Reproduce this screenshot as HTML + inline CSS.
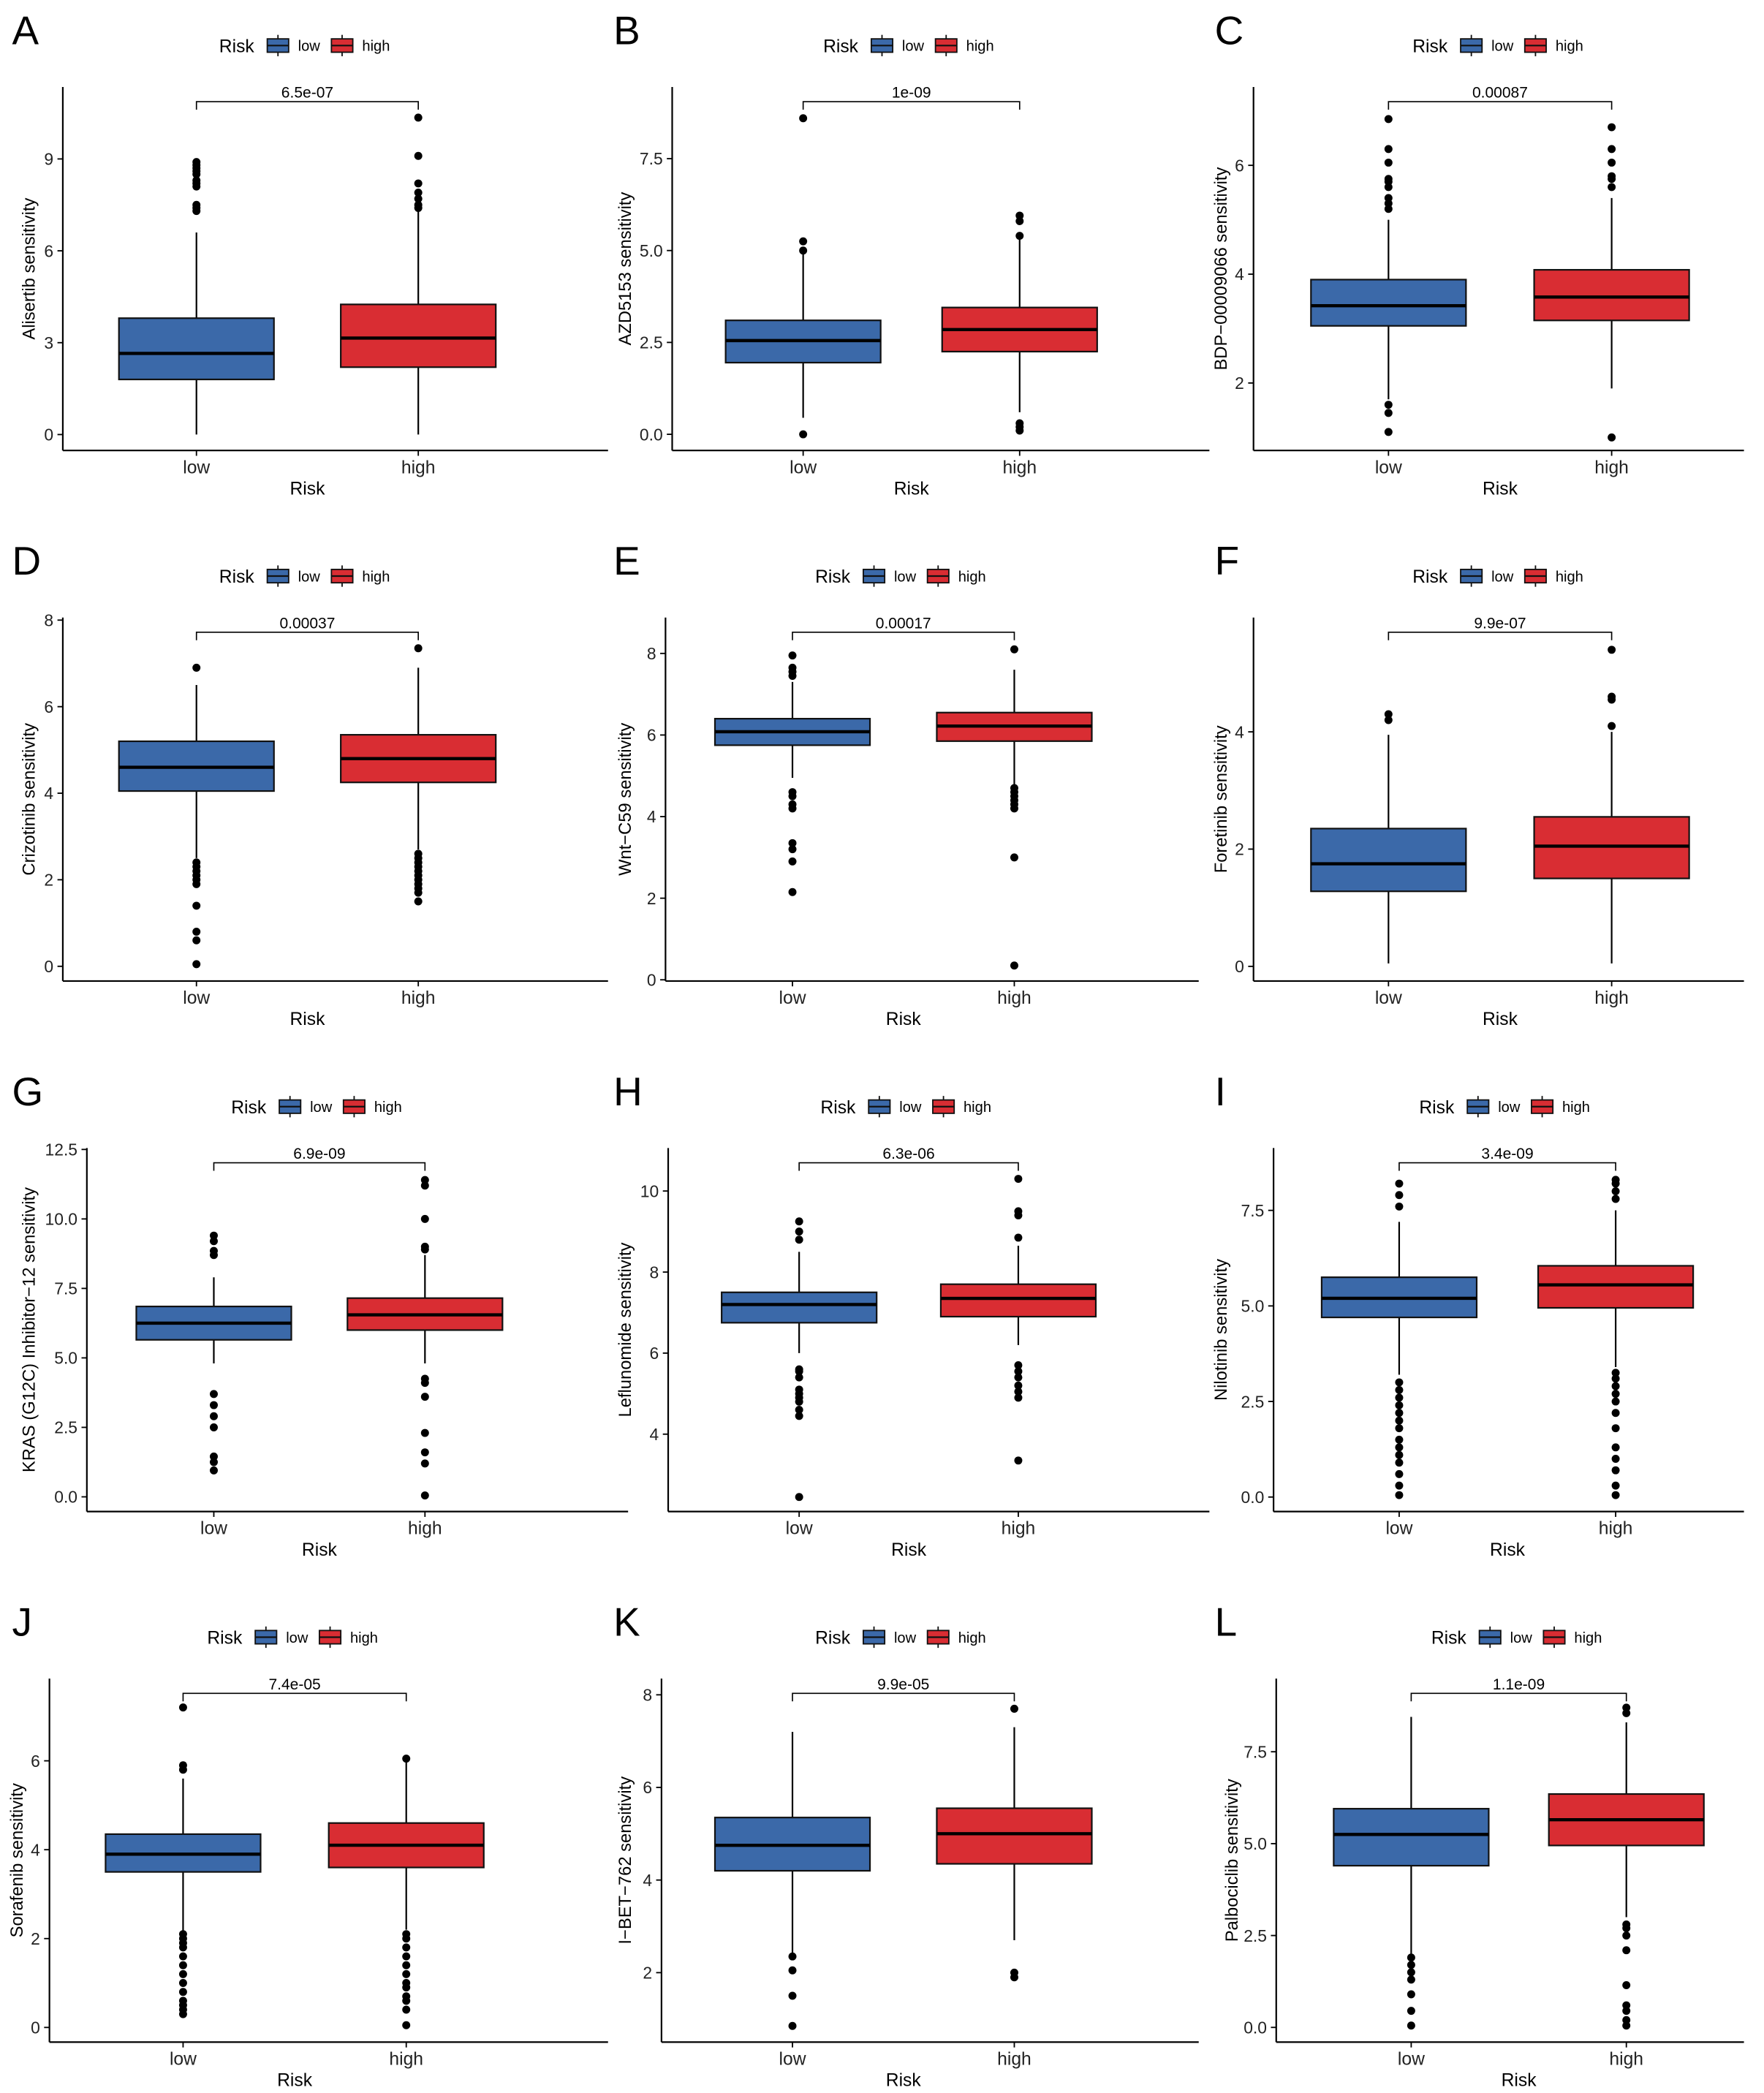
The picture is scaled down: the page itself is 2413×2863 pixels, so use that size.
<!DOCTYPE html>
<html><head><meta charset="utf-8"><style>
html,body{margin:0;padding:0;background:#fff;}
svg{display:block;font-family:"Liberation Sans",sans-serif;}
</style></head><body>
<svg id="fig" width="2413" height="2863" viewBox="0 0 1320 1566" xmlns="http://www.w3.org/2000/svg"></svg>
<script>
const categories = ["low", "high"];
// stats: [whiskerLow, q1, median, q3, whiskerHigh]
const aTicks = [0, 3, 6, 9];
const aLow = [0, 1.8, 2.65, 3.8, 6.6];
const aLowOut = [7.3, 7.4, 7.5, 8.1, 8.2, 8.3, 8.5, 8.6, 8.7, 8.8, 8.9];
const aHigh = [0, 2.2, 3.15, 4.25, 7.3];
const aHighOut = [7.4, 7.5, 7.7, 7.9, 8.2, 9.1, 10.35];
const bTicks = [0, 2.5, 5, 7.5];
const bLow = [0.45, 1.95, 2.55, 3.1, 4.9];
const bLowOut = [0.0, 5.0, 5.25, 8.6];
const bHigh = [0.6, 2.25, 2.85, 3.45, 5.3];
const bHighOut = [0.1, 0.2, 0.3, 5.4, 5.8, 5.95];
const cTicks = [2, 4, 6];
const cLow = [1.7, 3.05, 3.42, 3.9, 5.0];
const cLowOut = [1.1, 1.45, 1.6, 5.2, 5.3, 5.4, 5.6, 5.7, 5.75, 6.05, 6.3, 6.85];
const cHigh = [1.9, 3.15, 3.58, 4.08, 5.4];
const cHighOut = [1.0, 5.6, 5.75, 5.8, 6.05, 6.3, 6.7];
const dTicks = [0, 2, 4, 6, 8];
const dLow = [2.5, 4.05, 4.6, 5.2, 6.5];
const dLowOut = [0.05, 0.6, 0.8, 1.4, 1.9, 2.0, 2.1, 2.2, 2.3, 2.4, 6.9];
const dHigh = [2.7, 4.25, 4.8, 5.35, 6.9];
const dHighOut = [1.5, 1.7, 1.8, 1.9, 2.0, 2.1, 2.2, 2.3, 2.4, 2.5, 2.6, 7.35];
const eTicks = [0, 2, 4, 6, 8];
const eLow = [4.95, 5.75, 6.08, 6.4, 7.3];
const eLowOut = [2.15, 2.9, 3.2, 3.35, 4.2, 4.3, 4.5, 4.6, 7.45, 7.55, 7.65, 7.95];
const eHigh = [4.75, 5.85, 6.22, 6.55, 7.6];
const eHighOut = [0.35, 3.0, 4.2, 4.3, 4.4, 4.5, 4.6, 4.7, 8.1];
const fTicks = [0, 2, 4];
const fLow = [0.05, 1.28, 1.75, 2.35, 3.95];
const fLowOut = [4.2, 4.3];
const fHigh = [0.05, 1.5, 2.05, 2.55, 4.0];
const fHighOut = [4.1, 4.55, 4.6, 5.4];
const gTicks = [0, 2.5, 5, 7.5, 10, 12.5];
const gLow = [4.8, 5.65, 6.25, 6.85, 7.9];
const gLowOut = [0.95, 1.25, 1.45, 2.5, 2.9, 3.3, 3.7, 8.7, 8.85, 9.2, 9.4];
const gHigh = [4.8, 6.0, 6.55, 7.15, 8.7];
const gHighOut = [0.05, 1.2, 1.6, 2.3, 3.6, 4.1, 4.25, 8.9, 9.0, 10.0, 11.2, 11.4];
const hTicks = [4, 6, 8, 10];
const hLow = [6.0, 6.75, 7.2, 7.5, 8.5];
const hLowOut = [2.45, 4.45, 4.6, 4.8, 4.9, 5.0, 5.1, 5.4, 5.55, 5.6, 8.8, 9.0, 9.25];
const hHigh = [6.2, 6.9, 7.35, 7.7, 8.65];
const hHighOut = [3.35, 4.9, 5.05, 5.2, 5.4, 5.55, 5.7, 8.85, 9.4, 9.5, 10.3];
const iTicks = [0, 2.5, 5, 7.5];
const iLow = [3.2, 4.7, 5.2, 5.75, 7.2];
const iLowOut = [0.05, 0.3, 0.6, 0.9, 1.1, 1.3, 1.5, 1.8, 2.0, 2.2, 2.4, 2.6, 2.8, 3.0, 7.6, 7.9, 8.2];
const iHigh = [3.4, 4.95, 5.55, 6.05, 7.5];
const iHighOut = [0.05, 0.3, 0.7, 1.0, 1.3, 1.8, 2.2, 2.5, 2.7, 2.9, 3.1, 3.25, 7.8, 8.0, 8.2, 8.3];
const jTicks = [0, 2, 4, 6];
const jLow = [2.15, 3.5, 3.9, 4.35, 5.6];
const jLowOut = [0.3, 0.4, 0.5, 0.6, 0.8, 1.0, 1.2, 1.4, 1.6, 1.8, 1.9, 2.0, 2.1, 5.8, 5.9, 7.2];
const jHigh = [2.2, 3.6, 4.1, 4.6, 6.0];
const jHighOut = [0.05, 0.4, 0.6, 0.7, 0.9, 1.0, 1.2, 1.4, 1.6, 1.8, 2.0, 2.1, 6.05];
const kTicks = [2, 4, 6, 8];
const kLow = [2.4, 4.2, 4.75, 5.35, 7.2];
const kLowOut = [0.85, 1.5, 2.05, 2.35];
const kHigh = [2.7, 4.35, 5.0, 5.55, 7.3];
const kHighOut = [1.9, 2.0, 7.7];
const lTicks = [0, 2.5, 5, 7.5];
const lLow = [2.0, 4.4, 5.25, 5.95, 8.45];
const lLowOut = [0.05, 0.45, 0.9, 1.3, 1.5, 1.7, 1.9];
const lHigh = [3.0, 4.95, 5.65, 6.35, 8.3];
const lHighOut = [0.05, 0.2, 0.45, 0.6, 1.15, 2.1, 2.5, 2.7, 2.8, 8.55, 8.7];
const pValues = ["6.5e-07","1e-09","0.00087","0.00037","0.00017","9.9e-07","6.9e-09","6.3e-06","3.4e-09","7.4e-05","9.9e-05","1.1e-09"];
const yTitles = ["Alisertib sensitivity","AZD5153 sensitivity","BDP\u221200009066 sensitivity","Crizotinib sensitivity","Wnt\u2212C59 sensitivity","Foretinib sensitivity","KRAS (G12C) Inhibitor\u221212 sensitivity","Leflunomide sensitivity","Nilotinib sensitivity","Sorafenib sensitivity","I\u2212BET\u2212762 sensitivity","Palbociclib sensitivity"];
const tickFmt = [0,1,0,0,0,0,1,0,1,0,0,1];
// domains [min,max]
const domains = [[-0.52,11.35],[-0.44,9.45],[0.76,7.44],[-0.34,8.06],[-0.03,8.88],[-0.25,5.95],[-0.53,12.55],[2.09,11.06],[-0.38,9.13],[-0.33,7.85],[0.5,8.35],[-0.4,9.49]];

const layout = [
 {l:47,r:455,lo:147,hi:313,leg:164,yl:22},
 {l:503,r:905,lo:601,hi:763,leg:616,yl:468},
 {l:938,r:1305,lo:1039,hi:1206,leg:1057,yl:914},
 {l:47,r:455,lo:147,hi:313,leg:164,yl:22},
 {l:498,r:897,lo:593,hi:759,leg:610,yl:468},
 {l:938,r:1305,lo:1039,hi:1206,leg:1057,yl:914},
 {l:65,r:470,lo:160,hi:318,leg:173,yl:22},
 {l:500,r:905,lo:598,hi:762,leg:614,yl:468},
 {l:953,r:1305,lo:1047,hi:1209,leg:1062,yl:914},
 {l:37,r:455,lo:137,hi:304,leg:155,yl:13},
 {l:495,r:897,lo:593,hi:759,leg:610,yl:468},
 {l:955,r:1305,lo:1056,hi:1217,leg:1071,yl:922}
];
const ticksAll=[aTicks,bTicks,cTicks,dTicks,eTicks,fTicks,gTicks,hTicks,iTicks,jTicks,kTicks,lTicks];
const lowAll=[aLow,bLow,cLow,dLow,eLow,fLow,gLow,hLow,iLow,jLow,kLow,lLow];
const lowOutAll=[aLowOut,bLowOut,cLowOut,dLowOut,eLowOut,fLowOut,gLowOut,hLowOut,iLowOut,jLowOut,kLowOut,lLowOut];
const highAll=[aHigh,bHigh,cHigh,dHigh,eHigh,fHigh,gHigh,hHigh,iHigh,jHigh,kHigh,lHigh];
const highOutAll=[aHighOut,bHighOut,cHighOut,dHighOut,eHighOut,fHighOut,gHighOut,hHighOut,iHighOut,jHighOut,kHighOut,lHighOut];
const letters="ABCDEFGHIJKL";
const COLORS={low:"#3b69a9",high:"#d92d33"};
const NS="http://www.w3.org/2000/svg";
const svg=document.getElementById('fig');
function mk(tag,attrs,parent,text){const e=document.createElementNS(NS,tag);for(const k in attrs)e.setAttribute(k,attrs[k]);if(text!==undefined)e.textContent=text;parent.appendChild(e);return e;}

for(let p=0;p<12;p++){
  const L=layout[p], row=Math.floor(p/3), off=row*397;
  const top=65+off, bot=337+off;
  const [d0,d1]=domains[p];
  const y=v=>bot-(v-d0)/(d1-d0)*(bot-top);
  const g=mk('g',{},svg);
  
  
  const lt=mk('text',{x:(p%3)*450+9,y:33+off,'font-size':30,'font-family':'"Liberation Sans Narrow","Liberation Sans",sans-serif'},g,letters[p]);
  
  
  const lg=mk('g',{},g);
  
  
  const ly=34+off;
  mk('text',{x:L.leg,y:ly+5,'font-size':13.5},lg,'Risk');
  categories.forEach((c,i)=>{
    const bx=L.leg+36+i*48;
    const e=mk('g',{},lg);
    
    
    mk('line',{x1:bx+8,x2:bx+8,y1:ly-8,y2:ly+8,stroke:'#111','stroke-width':1},e);
    mk('rect',{x:bx,y:ly-5,width:16,height:10,fill:COLORS[c],stroke:'#111','stroke-width':1},e);
    mk('line',{x1:bx,x2:bx+16,y1:ly,y2:ly,stroke:'#111','stroke-width':1.2},e);
    mk('text',{x:bx+23,y:ly+4,'font-size':11},e,c);
  });
  const ax=mk('g',{},g);
  
  
  mk('line',{x1:L.l,x2:L.l,y1:top,y2:bot,stroke:'#000','stroke-width':1.2},ax);
  ticksAll[p].forEach(t=>{
    const ty=y(t);
    mk('line',{x1:L.l-4,x2:L.l,y1:ty,y2:ty,stroke:'#000','stroke-width':1},ax);
    mk('text',{x:L.l-7,y:ty+4.5,'font-size':12.5,'text-anchor':'end',fill:'#222'},ax,tickFmt[p]?t.toFixed(1):String(t));
  });
  const yt=mk('text',{x:0,y:0,'font-size':13,'text-anchor':'middle',transform:`translate(${L.yl+4},${(top+bot)/2}) rotate(-90)`},g,yTitles[p]);
  
  
  const xa=mk('g',{},g);
  
  
  mk('line',{x1:L.l,x2:L.r,y1:bot,y2:bot,stroke:'#000','stroke-width':1.2},xa);
  const xs=[L.lo,L.hi];
  categories.forEach((c,i)=>{
    mk('line',{x1:xs[i],x2:xs[i],y1:bot,y2:bot+4,stroke:'#000','stroke-width':1},xa);
    mk('text',{x:xs[i],y:bot+17,'font-size':13.5,'text-anchor':'middle',fill:'#222'},xa,c);
  });
  const xt=mk('text',{x:(L.lo+L.hi)/2,y:bot+33,'font-size':13.5,'text-anchor':'middle'},g,'Risk');
  
  
  const sets=[[lowAll[p],lowOutAll[p]],[highAll[p],highOutAll[p]]];
  sets.forEach((s,i)=>{
    const st=s[0], cx=xs[i], hw=58;
    const bg=mk('g',{},g);
    
    
    mk('line',{x1:cx,x2:cx,y1:y(st[0]),y2:y(st[4]),stroke:'#000','stroke-width':1.2},bg);
    mk('rect',{x:cx-hw,y:y(st[3]),width:hw*2,height:y(st[1])-y(st[3]),fill:COLORS[categories[i]],stroke:'#111','stroke-width':1.2},bg);
    mk('line',{x1:cx-hw,x2:cx+hw,y1:y(st[2]),y2:y(st[2]),stroke:'#000','stroke-width':2.4},bg);
    s[1].forEach(v=>{
      const pt=mk('circle',{cx:cx,cy:y(v),r:3,fill:'#000'},bg);
      
      
    });
  });
  const br=mk('g',{},g);
  
  
  const by=top+11;
  mk('path',{d:`M${L.lo},${by+6}V${by}H${L.hi}V${by+6}`,fill:'none',stroke:'#000','stroke-width':0.9},br);
  mk('text',{x:(L.lo+L.hi)/2,y:by-3,'font-size':11.5,'text-anchor':'middle'},br,pValues[p]);
}
</script>
</body></html>
